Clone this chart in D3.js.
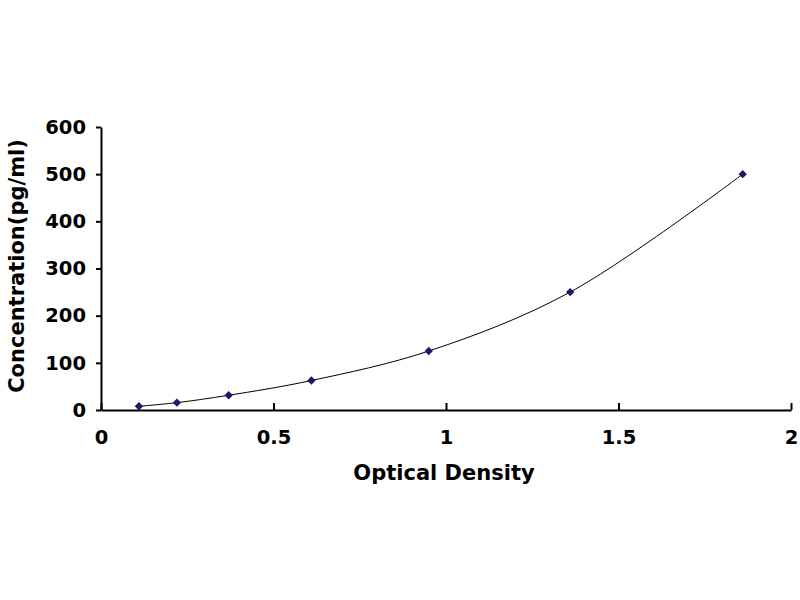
<!DOCTYPE html>
<html>
<head>
<meta charset="utf-8">
<script src="https://cdn.jsdelivr.net/npm/d3@7"></script>
<style>
  body { margin: 0; background: #fff; }
  text { font-family: "DejaVu Sans", "Liberation Sans", Arial, sans-serif; font-weight: bold; fill: #000; }
</style>
</head>
<body>
<script>
// standard curve values
const od = [0.11, 0.22, 0.37, 0.61, 0.95, 1.36, 1.86];
const conc = [7.8, 15.6, 31.25, 62.5, 125, 250, 500];
const xTicks = [0, 0.5, 1, 1.5, 2];
const yTicks = [0, 100, 200, 300, 400, 500, 600];

const width = 800,
  height = 600,
  plotLeft = 101,
  plotRight = 791,
  plotTop = 127,
  plotBottom = 410;

const svg = d3
  .select("body")
  .append("svg")
  .attr("width", width)
  .attr("height", height);

const x = d3.scaleLinear().domain([0, 2]).range([plotLeft, plotRight]);
const y = d3.scaleLinear().domain([0, 600]).range([plotBottom, plotTop]);

const points = od.map((d, i) => ({ x: d, y: conc[i] }));

// x axis, ticks pointing up into the plot
const gx = svg
  .append("g")
  .attr("transform", `translate(0,${plotBottom})`)
  .call(d3.axisBottom(x).tickValues(xTicks).tickSizeInner(-7).tickSizeOuter(0).tickPadding(20).tickFormat(d3.format("")));
gx.select(".domain").attr("stroke-width", 2);
gx.selectAll(".tick line").attr("stroke-width", 2);
gx.selectAll(".tick text").attr("font-size", 19.5);

// y axis, ticks pointing left
const gy = svg
  .append("g")
  .attr("transform", `translate(${plotLeft},0)`)
  .call(d3.axisLeft(y).tickValues(yTicks).tickSizeInner(5).tickSizeOuter(0).tickPadding(10));
gy.select(".domain").attr("stroke-width", 2);
gy.selectAll(".tick line").attr("stroke-width", 2);
gy.selectAll(".tick text").attr("font-size", 19.5);

const line = d3
  .line()
  .x((d) => x(d.x))
  .y((d) => y(d.y))
  .curve(d3.curveCatmullRom.alpha(0.5));

svg
  .append("path")
  .datum(points)
  .attr("fill", "none")
  .attr("stroke", "#000")
  .attr("stroke-width", 1)
  .attr("d", line);

svg
  .append("g")
  .attr("fill", "#1a1a66")
  .selectAll("path")
  .data(points)
  .join("path")
  .attr("d", d3.symbol(d3.symbolDiamond2, 45))
  .attr("transform", (d) => `translate(${x(d.x)},${y(d.y)})`);

svg
  .append("text")
  .attr("x", 444)
  .attr("y", 480)
  .attr("text-anchor", "middle")
  .attr("font-size", 21)
  .text("Optical Density");

svg
  .append("text")
  .attr("transform", "translate(24,266) rotate(-90)")
  .attr("text-anchor", "middle")
  .attr("font-size", 21)
  .text("Concentration(pg/ml)");
</script>
</body>
</html>
